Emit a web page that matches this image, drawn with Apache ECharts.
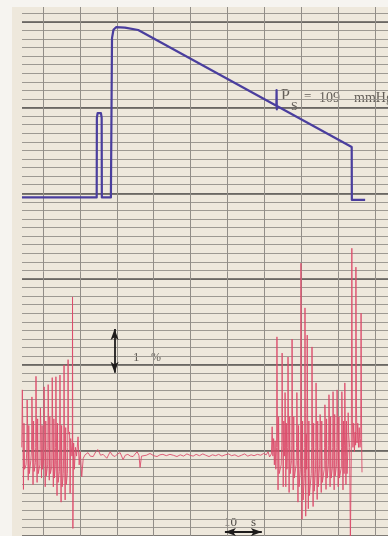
<!DOCTYPE html>
<html>
<head>
<meta charset="utf-8">
<script src="https://cdn.jsdelivr.net/npm/echarts@6/dist/echarts.min.js"></script>
<style>
  html, body { margin: 0; padding: 0; background: #f6f4f0; }
  #chart { width: 388px; height: 536px; }
</style>
</head>
<body>
<div id="chart"></div>
<script>
// Recorder strip: cuff pressure (upper pen, mmHg) and finger volume signal (lower pen, %)
// Time axis in seconds, 10 s per vertical chart division.

// Upper pen: cuff pressure [time s, mmHg]
const cuffPressure = [
  [-5.7, 0], [14.55, 0], [14.6, 95], [14.8, 100.5], [15.7, 100.5], [15.9, 95], [15.95, 0],
  [18.4, 0], [18.7, 190], [19.1, 200], [19.8, 203], [22.2, 202.5], [25.8, 199.6],
  [63.25, 109.3], [63.3, 128], [63.36, 105], [63.4, 108.9],
  [83.66, 60.1], [83.7, -3], [87.3, -3]
];

// Systolic marker read-out
const systolicLabel = ['P', 'S', '=', '109', 'mmHg'];

// Lower pen: volume signal [time s, %]
const volumeSignal = [
  // pulsations before cuff inflation
  [-5.75, 0.3], [-5.6, 1.61], [-5.5, 0.9], [-5.4, 0.2], [-5.3, -0.66], [-5.15, 0.85], [-5.0, -0.2], [-4.6, -0.1],
  [-4.4, 0.2], [-4.3, 1.38], [-4.2, 0.95], [-4.1, 0.1], [-4.0, -0.45], [-3.85, 0.8], [-3.7, -0.3], [-3.3, 0.0],
  [-3.1, 0.25], [-3.0, 1.45], [-2.9, 1.0], [-2.8, 0.15], [-2.7, -0.55], [-2.55, 0.9], [-2.4, -0.25], [-2.05, -0.05],
  [-2.0, 0.3], [-1.9, 1.92], [-1.8, 1.05], [-1.7, 0.2], [-1.6, -0.5], [-1.45, 0.95], [-1.3, -0.3], [-0.85, -0.1],
  [-0.8, 0.25], [-0.7, 1.2], [-0.6, 0.85], [-0.5, 0.1], [-0.4, -0.4], [-0.25, 0.8], [-0.1, -0.2], [0.15, 0.0],
  [0.2, 0.2], [0.3, 1.68], [0.4, 0.95], [0.5, 0.2], [0.6, -0.6], [0.75, 0.9], [0.9, -0.35], [1.25, -0.1],
  [1.3, 0.3], [1.4, 1.73], [1.5, 1.1], [1.6, 0.25], [1.7, -0.45], [1.85, 1.0], [2.0, -0.3], [2.35, -0.15],
  [2.4, 0.25], [2.5, 1.89], [2.6, 1.0], [2.7, 0.1], [2.8, -0.6], [2.95, 0.95], [3.1, -0.4], [3.35, -0.1],
  [3.4, 0.3], [3.5, 1.91], [3.6, 0.9], [3.7, 0.0], [3.8, -0.8], [3.95, 0.85], [4.1, -0.5], [4.45, -0.25],
  [4.5, 0.2], [4.6, 1.95], [4.7, 0.85], [4.8, -0.1], [4.9, -0.95], [5.05, 0.8], [5.2, -0.6], [5.5, -0.3],
  [5.6, 0.15], [5.7, 2.18], [5.8, 0.8], [5.9, -0.2], [6.0, -0.9], [6.15, 0.75], [6.3, -0.55], [6.6, -0.3],
  [6.7, 0.3], [6.8, 2.3], [6.9, 0.7], [7.05, 0.6], [7.2, 0.65], [7.35, -0.75], [7.5, 0.5], [7.85, 0.1],
  [7.95, 0.2], [8.0, 3.73], [8.1, -1.55], [8.3, 0.4], [8.5, -0.2], [8.8, 0.3], [9.1, 0.1],
  // occlusion: pulsations vanish
  [9.5, 0.54], [9.8, -0.1], [10.1, 0.2], [10.5, -0.37], [10.9, 0.05], [11.4, 0.13],
  [12.2, 0.18], [12.8, 0.1], [13.6, 0.09], [14.3, 0.2], [14.9, 0.25], [15.6, 0.12],
  [16.3, 0.14], [17.3, 0.05], [18.2, 0.2], [18.8, 0.12], [19.5, 0.09], [20.2, 0.15],
  [20.9, 0.18], [21.7, 0.02], [22.3, 0.12], [23.0, 0.14], [23.7, 0.1], [24.4, 0.09],
  [25.5, 0.2], [26.0, 0.12], [26.3, -0.16], [26.7, 0.1], [27.1, 0.14], [28.0, 0.12],
  [29.0, 0.16], [30.0, 0.11], [30.9, 0.09], [31.7, 0.13], [32.5, 0.14], [33.4, 0.11],
  [34.4, 0.14], [35.3, 0.12], [36.3, 0.09], [37.2, 0.13], [38.1, 0.1], [39.0, 0.15],
  [39.8, 0.12], [40.7, 0.1], [41.5, 0.14], [42.4, 0.11], [43.3, 0.15], [44.1, 0.12],
  [45.0, 0.09], [45.9, 0.13], [46.8, 0.11], [47.6, 0.14], [48.5, 0.1], [49.4, 0.13],
  [50.3, 0.15], [51.1, 0.11], [52.0, 0.13], [52.9, 0.09], [53.8, 0.12], [54.6, 0.15],
  [55.5, 0.1], [56.4, 0.13], [57.2, 0.11], [58.1, 0.14], [59.0, 0.12], [59.8, 0.16],
  [60.5, 0.13], [61.0, 0.2], [61.4, 0.08], [61.9, 0.15],
  // pulsations return during deflation
  [62.1, 0.77], [62.3, 0.1], [62.5, 0.5], [62.7, -0.1], [62.9, 0.45], [63.1, -0.2],
  [63.3, 0.3], [63.4, 2.82], [63.5, 1.2], [63.6, 0.3], [63.7, -0.67], [63.85, 1.0], [64.0, -0.3], [64.55, -0.1],
  [64.7, 0.35], [64.8, 2.45], [64.9, 1.1], [65.0, 0.2], [65.1, -0.6], [65.25, 0.9], [65.4, 0.1],
  [65.5, 0.3], [65.6, 1.55], [65.7, 0.9], [65.8, -0.6], [65.95, 0.85], [66.1, -0.2],
  [66.3, 0.3], [66.4, 2.36], [66.5, 1.2], [66.6, 0.2], [66.7, -0.73], [66.85, 1.0], [67.0, -0.3], [67.35, 0.0],
  [67.4, 0.35], [67.5, 2.77], [67.6, 1.25], [67.7, 0.2], [67.8, -0.67], [67.95, 1.0], [68.1, -0.4], [68.6, -0.1],
  [68.7, 0.3], [68.8, 1.55], [68.9, 0.9], [69.0, 0.0], [69.1, -0.95], [69.25, 0.8], [69.4, -0.6], [69.75, -0.2],
  [69.8, 0.2], [69.9, 4.5], [70.0, 1.3], [70.1, 0.0], [70.2, -1.34], [70.35, 0.9], [70.5, -0.9], [70.85, -0.3],
  [70.9, 0.3], [71.0, 3.48], [71.1, 1.1], [71.2, -1.27], [71.35, 0.6], [71.45, -0.2],
  [71.5, 0.4], [71.6, 2.86], [71.7, 1.2], [71.8, 0.0], [71.9, -1.1], [72.05, 0.9], [72.2, -0.8], [72.7, -0.3],
  [72.8, 0.3], [72.9, 2.59], [73.0, 1.15], [73.1, 0.0], [73.2, -1.05], [73.35, 0.85], [73.5, -0.7], [73.85, -0.2],
  [73.9, 0.3], [74.0, 1.77], [74.1, 1.0], [74.2, 0.0], [74.3, -0.89], [74.45, 0.9], [74.6, -0.6], [74.95, -0.1],
  [75.0, 0.3], [75.1, 1.05], [75.2, 0.85], [75.3, 0.0], [75.4, -0.73], [75.55, 0.9], [75.7, -0.5], [76.2, -0.2],
  [76.3, 0.3], [76.4, 1.27], [76.5, 0.9], [76.6, 0.0], [76.7, -0.66], [76.85, 0.95], [77.0, -0.4], [77.35, -0.1],
  [77.4, 0.35], [77.5, 1.5], [77.6, 1.0], [77.7, 0.1], [77.8, -0.6], [77.95, 1.0], [78.1, -0.4], [78.45, -0.15],
  [78.5, 0.3], [78.6, 1.57], [78.7, 0.95], [78.8, 0.0], [78.9, -0.67], [79.05, 1.05], [79.2, -0.35], [79.55, -0.1],
  [79.6, 0.3], [79.7, 1.61], [79.8, 1.0], [79.9, 0.1], [80.0, -0.6], [80.2, 1.0], [80.35, -0.4], [80.85, -0.15],
  [80.9, 0.3], [81.0, 1.57], [81.1, 0.95], [81.2, 0.0], [81.3, -0.67], [81.45, 0.9], [81.6, -0.3],
  [81.7, 0.35], [81.8, 1.77], [81.9, 1.0], [82.0, 0.1], [82.1, -0.55], [82.25, 0.9], [82.4, -0.3],
  [82.65, 0.3], [82.7, 1.09], [82.85, 0.6], [83.1, 0.3], [83.3, -1.85], [83.55, 0.2],
  [83.7, 4.84], [83.85, 0.9], [84.0, 0.3], [84.2, 0.85], [84.4, 0.2], [84.6, 0.65], [84.72, 0.35],
  [84.8, 4.41], [84.95, 1.2], [85.1, 0.4], [85.3, 0.85], [85.5, 0.3], [85.7, 0.75], [85.9, 0.3], [86.1, 0.5],
  [86.2, 3.36], [86.35, 0.4], [86.45, -0.27]
];

// Calibration marks: 1 % amplitude bar [time, from %, to %], 10 s time bar [from s, to s, level %]
const amplitudeBar = [19.4, 2, 3];
const timeBar = [49.3, 59.3, -1.63];
const amplitudeText = ['1', '%'];
const timeText = ['10', 's'];

// Chart paper geometry: minor division 8.77 px, 10 s = 36.9 px
const DIV = 8.77;
const PX_PER_S = 3.69;
const PAPER = '#eee8dc';
const INK = '#635e58';

const chart = echarts.init(document.getElementById('chart'), null, { renderer: 'canvas' });

const hidden = (gridIndex, extra) => Object.assign({ type: 'value', gridIndex, show: false }, extra || {});

const option = {
  animation: false,
  backgroundColor: '#f6f4f0',
  grid: [
    // 0: paper sheet
    { left: 12, top: 7, right: 0, bottom: 0, show: true, backgroundColor: PAPER, borderWidth: 0 },
    // 1: thin horizontal rulings
    { left: 22, top: 460.5 - 51 * DIV, right: 0, height: 61 * DIV },
    // 2: heavy horizontal rulings every 10 divisions
    { left: 22, top: 460.5 - 50 * DIV, right: 0, height: 60 * DIV },
    // 3: vertical time rulings
    { left: 43, top: 7, right: 0, bottom: 0 },
    // 4: traces
    { left: 22, top: 0, right: 0, bottom: 0 }
  ],
  xAxis: [
    hidden(0, { min: 0, max: 1 }),
    hidden(1, { min: 0, max: 1 }),
    hidden(2, { min: 0, max: 1 }),
    {
      type: 'value', gridIndex: 3, min: 0, max: 345 / PX_PER_S, interval: 10,
      axisLine: { show: false }, axisTick: { show: false }, axisLabel: { show: false },
      splitLine: { show: true, lineStyle: { color: '#928e88', width: 1 } }
    },
    hidden(4, { min: -21 / PX_PER_S, max: 345 / PX_PER_S })
  ],
  yAxis: [
    hidden(0, { min: 0, max: 1 }),
    {
      type: 'value', gridIndex: 1, min: -10, max: 51, interval: 1,
      axisLine: { show: false }, axisTick: { show: false }, axisLabel: { show: false },
      splitLine: { show: true, lineStyle: { color: '#9d9992', width: 1 } }
    },
    {
      type: 'value', gridIndex: 2, min: -10, max: 50, interval: 10,
      axisLine: { show: false }, axisTick: { show: false }, axisLabel: { show: false },
      splitLine: { show: true, lineStyle: { color: '#5a5753', width: 1.7 } }
    },
    hidden(3, { min: 0, max: 1 }),
    // pressure scale: 0 mmHg on the heavy ruling at 197.4 px
    hidden(4, { min: (197.4 - 536) / 0.8385, max: 197.4 / 0.8385 }),
    // volume scale: 0 % on the heavy ruling at 460.5 px, 1 % = 5 divisions
    hidden(4, { min: (460.5 - 536) / (5 * DIV), max: 460.5 / (5 * DIV) })
  ],
  series: [
    {
      name: 'cuff pressure',
      type: 'line',
      xAxisIndex: 4, yAxisIndex: 4,
      data: cuffPressure,
      showSymbol: false,
      lineStyle: { color: '#4a3e9e', width: 2.2, join: 'round' },
      z: 5
    },
    {
      name: 'volume',
      type: 'line',
      xAxisIndex: 4, yAxisIndex: 5,
      data: volumeSignal,
      showSymbol: false,
      lineStyle: { color: '#dc4a6a', width: 1, opacity: 0.88 },
      z: 4,
      markLine: {
        silent: true,
        symbol: ['arrow', 'arrow'],
        symbolSize: [6, 11],
        label: { show: false },
        lineStyle: { color: '#1e1c1c', width: 1.8, type: 'solid', opacity: 1 },
        data: [
          [{ coord: [amplitudeBar[0], amplitudeBar[1]] }, { coord: [amplitudeBar[0], amplitudeBar[2]] }],
          [{ coord: [timeBar[0], timeBar[2]] }, { coord: [timeBar[1], timeBar[2]] }]
        ]
      }
    }
  ],
  graphic: [
    { type: 'text', x: 281, y: 104, style: { text: systolicLabel[0], font: '16px "Liberation Serif"', fill: INK, verticalAlign: 'bottom' } },
    { type: 'text', x: 291, y: 113, style: { text: systolicLabel[1], font: '12px "Liberation Serif"', fill: INK, verticalAlign: 'bottom' } },
    { type: 'text', x: 304, y: 103.5, style: { text: systolicLabel[2], font: '13px "Liberation Serif"', fill: INK, verticalAlign: 'bottom' } },
    { type: 'text', x: 319, y: 105, style: { text: systolicLabel[3], font: '14px "Liberation Serif"', fill: INK, verticalAlign: 'bottom' } },
    { type: 'text', x: 354, y: 105, style: { text: systolicLabel[4], font: '14px "Liberation Serif"', fill: INK, verticalAlign: 'bottom' } },
    { type: 'text', x: 133, y: 364, style: { text: amplitudeText[0], font: '13px "Liberation Serif"', fill: INK, verticalAlign: 'bottom' } },
    { type: 'text', x: 151, y: 364, style: { text: amplitudeText[1], font: '12px "Liberation Serif"', fill: INK, verticalAlign: 'bottom' } },
    { type: 'text', x: 224, y: 529, style: { text: timeText[0], font: '13px "Liberation Serif"', fill: '#4f4b47', verticalAlign: 'bottom' } },
    { type: 'text', x: 251, y: 529, style: { text: timeText[1], font: '13px "Liberation Serif"', fill: '#4f4b47', verticalAlign: 'bottom' } }
  ]
};

chart.setOption(option);
</script>
</body>
</html>
